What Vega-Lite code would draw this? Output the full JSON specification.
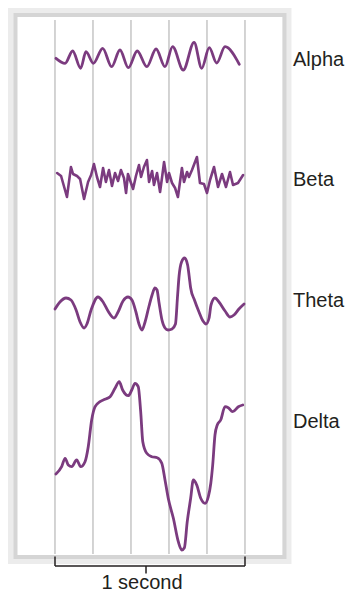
{
  "$schema": "https://vega.github.io/schema/vega-lite/v6.json",
  "width": 349,
  "height": 594,
  "autosize": "none",
  "padding": 0,
  "background": "white",
  "config": {"view": {"stroke": null}},
  "datasets": {
    "one": [{}],
    "grid": [{"ms": 0}, {"ms": 200}, {"ms": 400}, {"ms": 600}, {"ms": 800}, {"ms": 1000}],
    "labels": [{"wave": "Alpha", "at": 66}, {"wave": "Beta", "at": 186}, {"wave": "Theta", "at": 307}, {"wave": "Delta", "at": 428}],
    "alpha": [
      {"ms": 5, "v": 58.3}, {"ms": 53, "v": 63.3}, {"ms": 93, "v": 51}, {"ms": 135, "v": 68.3},
      {"ms": 163, "v": 51.7}, {"ms": 202, "v": 63.3}, {"ms": 251, "v": 48.3}, {"ms": 298, "v": 66.7},
      {"ms": 342, "v": 50}, {"ms": 386, "v": 67.7}, {"ms": 433, "v": 51}, {"ms": 483, "v": 66.7},
      {"ms": 532, "v": 49}, {"ms": 579, "v": 66.7}, {"ms": 619, "v": 46.7}, {"ms": 675, "v": 70},
      {"ms": 732, "v": 42.3}, {"ms": 772, "v": 68.3}, {"ms": 812, "v": 47.7}, {"ms": 851, "v": 63},
      {"ms": 895, "v": 46.7}, {"ms": 970, "v": 64.3}
    ],
    "beta": [
      {"ms": 11, "v": 173}, {"ms": 32, "v": 176}, {"ms": 63, "v": 197}, {"ms": 84, "v": 167},
      {"ms": 95, "v": 174}, {"ms": 116, "v": 176}, {"ms": 132, "v": 179}, {"ms": 153, "v": 199},
      {"ms": 174, "v": 182}, {"ms": 190, "v": 175}, {"ms": 205, "v": 164}, {"ms": 221, "v": 177},
      {"ms": 237, "v": 187}, {"ms": 253, "v": 168}, {"ms": 268, "v": 182}, {"ms": 284, "v": 170},
      {"ms": 300, "v": 186}, {"ms": 316, "v": 173}, {"ms": 332, "v": 181}, {"ms": 347, "v": 170},
      {"ms": 363, "v": 178}, {"ms": 374, "v": 193}, {"ms": 384, "v": 174}, {"ms": 400, "v": 183},
      {"ms": 411, "v": 189}, {"ms": 426, "v": 176}, {"ms": 442, "v": 165}, {"ms": 453, "v": 177},
      {"ms": 468, "v": 167}, {"ms": 484, "v": 160}, {"ms": 495, "v": 182}, {"ms": 511, "v": 171},
      {"ms": 521, "v": 185}, {"ms": 537, "v": 173}, {"ms": 553, "v": 192}, {"ms": 563, "v": 178},
      {"ms": 574, "v": 162}, {"ms": 590, "v": 182}, {"ms": 600, "v": 173}, {"ms": 616, "v": 183},
      {"ms": 632, "v": 188}, {"ms": 647, "v": 197}, {"ms": 668, "v": 168}, {"ms": 679, "v": 182},
      {"ms": 695, "v": 172}, {"ms": 705, "v": 177}, {"ms": 721, "v": 170}, {"ms": 747, "v": 157},
      {"ms": 763, "v": 183}, {"ms": 784, "v": 184}, {"ms": 800, "v": 193}, {"ms": 816, "v": 180},
      {"ms": 837, "v": 167}, {"ms": 858, "v": 187}, {"ms": 879, "v": 174}, {"ms": 900, "v": 187},
      {"ms": 921, "v": 172}, {"ms": 937, "v": 185}, {"ms": 963, "v": 183}, {"ms": 990, "v": 175}
    ],
    "theta": [
      {"ms": 0, "v": 309}, {"ms": 26, "v": 302}, {"ms": 58, "v": 298}, {"ms": 84, "v": 300},
      {"ms": 111, "v": 310}, {"ms": 132, "v": 322}, {"ms": 153, "v": 328}, {"ms": 168, "v": 324},
      {"ms": 190, "v": 310}, {"ms": 226, "v": 297}, {"ms": 253, "v": 302}, {"ms": 279, "v": 311},
      {"ms": 311, "v": 318}, {"ms": 332, "v": 312}, {"ms": 358, "v": 301}, {"ms": 384, "v": 297},
      {"ms": 405, "v": 300}, {"ms": 426, "v": 312}, {"ms": 442, "v": 324}, {"ms": 458, "v": 330},
      {"ms": 474, "v": 322}, {"ms": 495, "v": 306}, {"ms": 511, "v": 295}, {"ms": 526, "v": 288},
      {"ms": 537, "v": 290}, {"ms": 547, "v": 302}, {"ms": 563, "v": 320}, {"ms": 579, "v": 328},
      {"ms": 595, "v": 330}, {"ms": 616, "v": 329}, {"ms": 634, "v": 324}, {"ms": 645, "v": 296},
      {"ms": 653, "v": 276}, {"ms": 666, "v": 262}, {"ms": 682, "v": 258}, {"ms": 698, "v": 265},
      {"ms": 706, "v": 276}, {"ms": 714, "v": 288}, {"ms": 734, "v": 300}, {"ms": 758, "v": 312},
      {"ms": 779, "v": 321}, {"ms": 795, "v": 324}, {"ms": 811, "v": 318}, {"ms": 821, "v": 305},
      {"ms": 842, "v": 298}, {"ms": 863, "v": 302}, {"ms": 895, "v": 311}, {"ms": 921, "v": 317},
      {"ms": 942, "v": 315}, {"ms": 968, "v": 309}, {"ms": 995, "v": 304}
    ],
    "delta": [
      {"ms": 5, "v": 474}, {"ms": 35, "v": 466.7}, {"ms": 53, "v": 458.3}, {"ms": 70, "v": 465},
      {"ms": 88, "v": 466.7}, {"ms": 114, "v": 460}, {"ms": 135, "v": 466.7}, {"ms": 158, "v": 461.7},
      {"ms": 175, "v": 446.7}, {"ms": 193, "v": 420}, {"ms": 211, "v": 406.7}, {"ms": 237, "v": 401.7},
      {"ms": 263, "v": 399.3}, {"ms": 290, "v": 396.7}, {"ms": 316, "v": 388.3}, {"ms": 338, "v": 381.7},
      {"ms": 356, "v": 390}, {"ms": 386, "v": 395.7}, {"ms": 404, "v": 390}, {"ms": 421, "v": 383.3},
      {"ms": 438, "v": 386.7}, {"ms": 451, "v": 411.7}, {"ms": 462, "v": 441.7}, {"ms": 483, "v": 453.3},
      {"ms": 509, "v": 456.7}, {"ms": 538, "v": 457.7}, {"ms": 562, "v": 463.3}, {"ms": 579, "v": 480},
      {"ms": 596, "v": 498.3}, {"ms": 623, "v": 518.3}, {"ms": 649, "v": 541.7}, {"ms": 667, "v": 550},
      {"ms": 681, "v": 547.7}, {"ms": 696, "v": 521.7}, {"ms": 714, "v": 498.3}, {"ms": 728, "v": 480},
      {"ms": 746, "v": 485}, {"ms": 767, "v": 498.3}, {"ms": 790, "v": 503.3}, {"ms": 807, "v": 496.7},
      {"ms": 820, "v": 483.3}, {"ms": 830, "v": 465}, {"ms": 842, "v": 435}, {"ms": 854, "v": 425},
      {"ms": 872, "v": 420}, {"ms": 895, "v": 406.7}, {"ms": 912, "v": 407.7}, {"ms": 935, "v": 411.7},
      {"ms": 965, "v": 406.7}, {"ms": 988, "v": 405}
    ]
  },
  "layer": [
    {
      "data": {"name": "one"},
      "mark": {"type": "rect", "filled": false, "stroke": "#ececec", "strokeWidth": 9},
      "encoding": {
        "x": {"datum": -223.7, "type": "quantitative", "scale": {"domain": [-289.47, 1547.37], "nice": false, "zero": false}, "axis": null},
        "x2": {"datum": 1221},
        "y": {"datum": 12.5, "type": "quantitative", "scale": {"domain": [0, 594], "nice": false, "zero": false, "reverse": true}, "axis": null},
        "y2": {"datum": 559.5}
      }
    },
    {
      "data": {"name": "one"},
      "mark": {"type": "rect", "filled": false, "stroke": "#d5d5d5", "strokeWidth": 4},
      "encoding": {
        "x": {"datum": -207.9, "type": "quantitative"},
        "x2": {"datum": 1207.9},
        "y": {"datum": 15, "type": "quantitative"},
        "y2": {"datum": 557}
      }
    },
    {
      "data": {"name": "grid"},
      "mark": {"type": "rule", "stroke": "#a8a8a8", "strokeWidth": 1},
      "encoding": {
        "x": {"field": "ms", "type": "quantitative"},
        "y": {"datum": 20, "type": "quantitative"},
        "y2": {"datum": 554}
      }
    },
    {
      "data": {"name": "alpha"},
      "mark": {"type": "line", "interpolate": "monotone", "stroke": "#7b3b7f", "strokeWidth": 2.8, "strokeCap": "round", "strokeJoin": "round"},
      "encoding": {
        "x": {"field": "ms", "type": "quantitative"},
        "y": {"field": "v", "type": "quantitative"}
      }
    },
    {
      "data": {"name": "beta"},
      "mark": {"type": "line", "interpolate": "linear", "stroke": "#7b3b7f", "strokeWidth": 2.6, "strokeCap": "round", "strokeJoin": "round"},
      "encoding": {
        "x": {"field": "ms", "type": "quantitative"},
        "y": {"field": "v", "type": "quantitative"}
      }
    },
    {
      "data": {"name": "theta"},
      "mark": {"type": "line", "interpolate": "monotone", "stroke": "#7b3b7f", "strokeWidth": 2.8, "strokeCap": "round", "strokeJoin": "round"},
      "encoding": {
        "x": {"field": "ms", "type": "quantitative"},
        "y": {"field": "v", "type": "quantitative"}
      }
    },
    {
      "data": {"name": "delta"},
      "mark": {"type": "line", "interpolate": "monotone", "stroke": "#7b3b7f", "strokeWidth": 2.8, "strokeCap": "round", "strokeJoin": "round"},
      "encoding": {
        "x": {"field": "ms", "type": "quantitative"},
        "y": {"field": "v", "type": "quantitative"}
      }
    },
    {
      "data": {"name": "labels"},
      "mark": {"type": "text", "align": "left", "baseline": "alphabetic", "font": "Liberation Sans", "fontSize": 20, "fill": "#231f20"},
      "encoding": {
        "x": {"datum": 1252.6, "type": "quantitative"},
        "y": {"field": "at", "type": "quantitative"},
        "text": {"field": "wave"}
      }
    },
    {
      "data": {"name": "one"},
      "mark": {"type": "rule", "stroke": "#231f20", "strokeWidth": 1.5},
      "encoding": {"x": {"datum": 0, "type": "quantitative"}, "x2": {"datum": 1000}, "y": {"datum": 566, "type": "quantitative"}}
    },
    {
      "data": {"name": "one"},
      "mark": {"type": "rule", "stroke": "#231f20", "strokeWidth": 1.5},
      "encoding": {"x": {"datum": 0, "type": "quantitative"}, "y": {"datum": 556.5, "type": "quantitative"}, "y2": {"datum": 566}}
    },
    {
      "data": {"name": "one"},
      "mark": {"type": "rule", "stroke": "#231f20", "strokeWidth": 1.5},
      "encoding": {"x": {"datum": 1000, "type": "quantitative"}, "y": {"datum": 556.5, "type": "quantitative"}, "y2": {"datum": 566}}
    },
    {
      "data": {"name": "one"},
      "mark": {"type": "rule", "stroke": "#231f20", "strokeWidth": 1.5},
      "encoding": {"x": {"datum": 479, "type": "quantitative"}, "y": {"datum": 566, "type": "quantitative"}, "y2": {"datum": 573.5}}
    },
    {
      "data": {"name": "one"},
      "mark": {"type": "text", "text": "1 second", "align": "center", "baseline": "alphabetic", "font": "Liberation Sans", "fontSize": 20, "fill": "#231f20"},
      "encoding": {"x": {"datum": 458, "type": "quantitative"}, "y": {"datum": 589, "type": "quantitative"}}
    }
  ]
}
